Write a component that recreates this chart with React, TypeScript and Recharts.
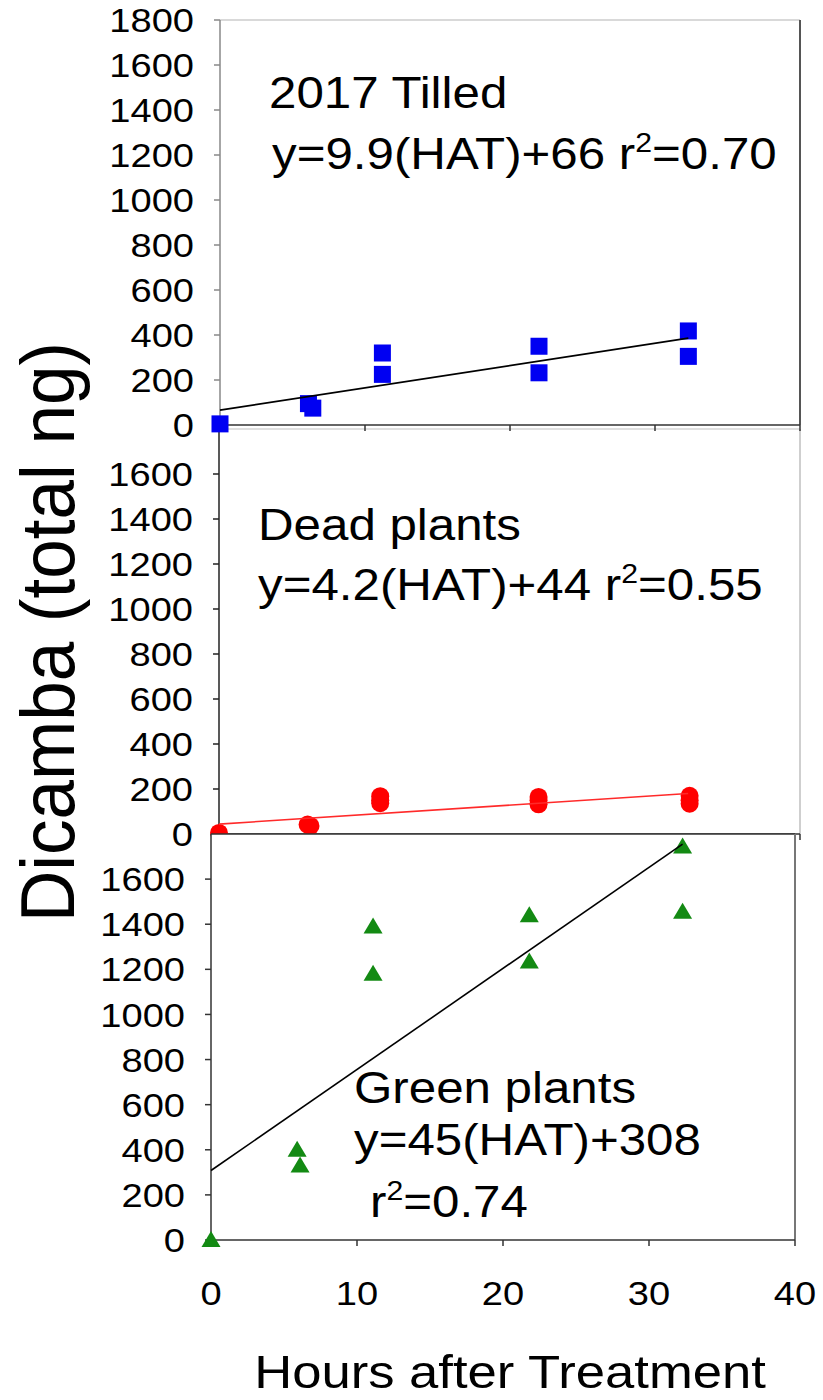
import React from "react";
import { ScatterChart, Scatter, XAxis, YAxis, ReferenceLine, CartesianGrid } from "recharts";

// hours after treatment and dicamba (ng)
const tilledHours = [0, 6.1, 6.4, 11.2, 11.2, 22, 22, 32.3, 32.3];
const tilledNg = [5, 95, 75, 320, 225, 350, 232, 418, 305];

const deadHours = [0, 6.1, 6.3, 11.1, 11.1, 11.1, 22, 22, 22, 32.4, 32.4, 32.4];
const deadNg = [5, 42, 36, 168, 150, 137, 165, 150, 132, 170, 150, 135];

const greenHours = [0, 5.9, 6.1, 11.1, 11.1, 21.8, 21.8, 32.3, 32.3];
const greenNg = [0, 400, 330, 1390, 1180, 1440, 1235, 1745, 1455];

// regression line end points
const fitHours = [0, 32.3];
const tilledFit = [66, 386];
const deadFit = [44, 180];
const greenFit = [308, 1755];

const hourTicks = [0, 10, 20, 30, 40];
const ngTicksTop = [0, 200, 400, 600, 800, 1000, 1200, 1400, 1600, 1800];
const ngTicks = [0, 200, 400, 600, 800, 1000, 1200, 1400, 1600];

const FONT = "'Liberation Sans', Arial, Helvetica, sans-serif";
const STRETCH = 1.12;

const pts = (hs: number[], vs: number[]) => hs.map((h, i) => ({ h, v: vs[i] }));

const BlueSquare = (p: any) => (
  <rect x={p.cx - 8.5} y={p.cy - 8.5} width={17} height={17} fill="#0000f2" />
);
const RedDot = (p: any) => <circle cx={p.cx} cy={p.cy} r={9} fill="#ff0000" />;
const GreenTriangle = (p: any) => (
  <polygon
    points={`${p.cx},${p.cy - 9} ${p.cx + 9.5},${p.cy + 7} ${p.cx - 9.5},${p.cy + 7}`}
    fill="#138a13"
  />
);
const NoDot = () => <g />;
const NoTick = () => <g />;

const YTick = (p: any) => (
  <text
    transform={`translate(${p.x},${p.y}) scale(${STRETCH},1)`}
    textAnchor="end"
    dy="0.355em"
    fontSize={34}
    fontFamily={FONT}
    fill="#000"
  >
    {p.payload.value}
  </text>
);

const XTick = (p: any) => (
  <text
    transform={`translate(${p.x},${p.y}) scale(${STRETCH},1)`}
    textAnchor="middle"
    dy="0.71em"
    fontSize={34}
    fontFamily={FONT}
    fill="#000"
  >
    {p.payload.value}
  </text>
);

type PanelProps = {
  top: number;
  height: number;
  yWidth: number;
  right: number;
  xHeight: number;
  yTicks: number[];
  points: { h: number; v: number }[];
  fit: { h: number; v: number }[];
  shape: any;
  color: string;
  fitColor: string;
  xLabels: boolean;
  bg?: string;
  leftStroke: string;
  bottomStroke: string;
  topStroke: string;
  rightStroke: string;
  z: number;
};

function Panel(p: PanelProps) {
  return (
    <div style={{ position: "absolute", left: 0, top: p.top, zIndex: p.z }}>
      <ScatterChart
        width={823}
        height={p.height}
        margin={{ top: 20, right: p.right, bottom: 0, left: 0 }}
      >
        {p.bg && <CartesianGrid horizontal={false} vertical={false} fill={p.bg} />}
        <XAxis
          type="number"
          dataKey="h"
          domain={[0, 40]}
          ticks={hourTicks}
          interval={0}
          height={p.xHeight}
          stroke={p.bottomStroke}
          strokeWidth={1.5}
          tickSize={6}
          tickMargin={35}
          tick={p.xLabels ? <XTick /> : <NoTick />}
        />
        <YAxis
          type="number"
          dataKey="v"
          domain={[0, 1800]}
          ticks={p.yTicks}
          interval={0}
          width={p.yWidth}
          stroke={p.leftStroke}
          strokeWidth={1.5}
          tickSize={6}
          tickMargin={20}
          tick={<YTick />}
        />
        <ReferenceLine y={1800} stroke={p.topStroke} strokeWidth={1.5} />
        <ReferenceLine x={40} stroke={p.rightStroke} strokeWidth={2} />
        <Scatter data={p.points} fill={p.color} shape={p.shape} isAnimationActive={false} />
        <Scatter
          data={p.fit}
          fill={p.fitColor}
          line={{ stroke: p.fitColor, strokeWidth: 1.6 }}
          shape={NoDot}
          isAnimationActive={false}
        />
      </ScatterChart>
    </div>
  );
}

export default function App() {
  return (
    <div
      style={{
        position: "absolute",
        left: 0,
        top: 0,
        width: 823,
        height: 1400,
        background: "#fff",
        fontFamily: FONT,
      }}
    >
      <Panel
        top={409}
        height={470}
        yWidth={219}
        right={23}
        xHeight={45}
        yTicks={ngTicks}
        points={pts(deadHours, deadNg)}
        fit={pts(fitHours, deadFit)}
        shape={RedDot}
        color="#ff0000"
        fitColor="#ff2a2a"
        xLabels={false}
        leftStroke="#222"
        bottomStroke="#333"
        topStroke="#d4d4d4"
        rightStroke="#cfcfcf"
        z={1}
      />
      <Panel
        top={0}
        height={470}
        yWidth={220}
        right={23}
        xHeight={45}
        yTicks={ngTicksTop}
        points={pts(tilledHours, tilledNg)}
        fit={pts(fitHours, tilledFit)}
        shape={BlueSquare}
        color="#0000f2"
        fitColor="#000"
        xLabels={false}
        leftStroke="#888"
        bottomStroke="#333"
        topStroke="#cccccc"
        rightStroke="#555"
        z={2}
      />
      <Panel
        top={814}
        height={506}
        yWidth={211}
        right={28}
        xHeight={80}
        yTicks={ngTicks}
        points={pts(greenHours, greenNg)}
        fit={pts(fitHours, greenFit)}
        shape={GreenTriangle}
        color="#138a13"
        fitColor="#000"
        xLabels={true}
        bg="#fff"
        leftStroke="#333"
        bottomStroke="#333"
        topStroke="#333"
        rightStroke="#777"
        z={3}
      />
      <svg
        width={823}
        height={1400}
        style={{ position: "absolute", left: 0, top: 0, zIndex: 10, pointerEvents: "none" }}
        fontFamily={FONT}
        fill="#000"
      >
        <text transform={`translate(269,108) scale(${STRETCH},1)`} fontSize={44}>
          2017 Tilled
        </text>
        <text transform={`translate(272,169) scale(${STRETCH},1)`} fontSize={44}>
          y=9.9(HAT)+66 r<tspan dy={-17} fontSize={27}>2</tspan>
          <tspan dy={17}>=0.70</tspan>
        </text>
        <text transform={`translate(258,540) scale(${STRETCH},1)`} fontSize={44}>
          Dead plants
        </text>
        <text transform={`translate(258,600) scale(${STRETCH},1)`} fontSize={44}>
          y=4.2(HAT)+44 r<tspan dy={-17} fontSize={27}>2</tspan>
          <tspan dy={17}>=0.55</tspan>
        </text>
        <text transform={`translate(354,1103) scale(${STRETCH},1)`} fontSize={44}>
          Green plants
        </text>
        <text transform={`translate(354,1155) scale(${STRETCH},1)`} fontSize={44}>
          y=45(HAT)+308
        </text>
        <text transform={`translate(370,1217) scale(${STRETCH},1)`} fontSize={44}>
          r<tspan dy={-17} fontSize={27}>2</tspan>
          <tspan dy={17}>=0.74</tspan>
        </text>
        <text
          transform={`translate(510,1388) scale(${STRETCH},1)`}
          fontSize={47}
          textAnchor="middle"
        >
          Hours after Treatment
        </text>
        <text
          transform={`translate(74,632) scale(1.06,1) rotate(-90)`}
          fontSize={71}
          textAnchor="middle"
        >
          Dicamba (total ng)
        </text>
      </svg>
    </div>
  );
}
